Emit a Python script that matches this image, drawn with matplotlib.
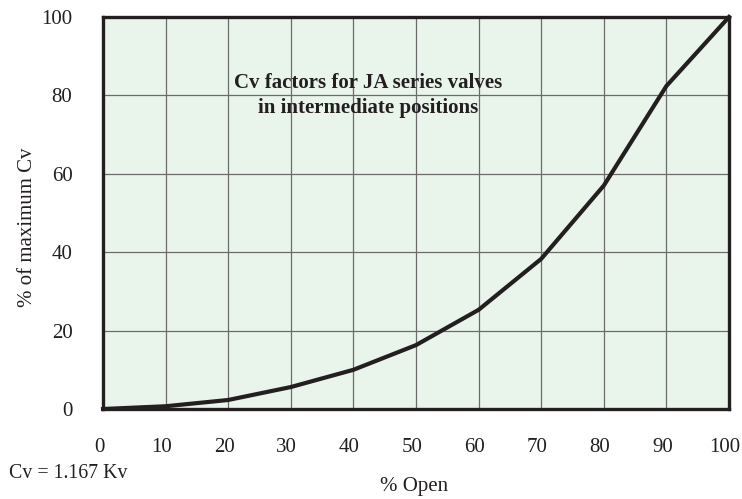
import matplotlib
matplotlib.use("Agg")
import matplotlib.pyplot as plt
import matplotlib.transforms as mtransforms

# percent open vs percent of maximum Cv
pct_open = [0, 10, 20, 30, 40, 50, 60, 70, 80, 90, 100]
pct_cv = [0, 0.7, 2.3, 5.6, 10.0, 16.3, 25.3, 38.3, 57.0, 82.4, 100]

x_ticks = [0, 10, 20, 30, 40, 50, 60, 70, 80, 90, 100]
y_ticks = [0, 20, 40, 60, 80, 100]

plt.rcParams['font.family'] = ['Liberation Serif', 'DejaVu Serif']
txt = '#231f20'

fig = plt.figure(figsize=(7.42, 4.99), dpi=100)
ax = fig.add_axes([103 / 742, 90 / 499, 626 / 742, 392 / 499])
ax.set_facecolor('#e9f5ea')

ax.plot(pct_open, pct_cv, color='#231f20', lw=3.0, solid_joinstyle='miter', zorder=3, clip_on=False)

ax.set_xlim(0, 100)
ax.set_ylim(0, 100)
ax.set_xticks(x_ticks)
ax.set_yticks(y_ticks)
ax.grid(True, color='#6b6b6b', lw=0.9)
ax.tick_params(length=0, labelsize=15, labelcolor=txt)
ax.tick_params(axis='x', pad=21)
ax.tick_params(axis='y', pad=22)
for s in ax.spines.values():
    s.set_linewidth(2.4)
    s.set_color('#231f20')
    s.set_zorder(4)

# x labels sit a few px left of their ticks in the original
shift = mtransforms.ScaledTranslation(-4 / 100, 0, fig.dpi_scale_trans)
for lbl in ax.get_xticklabels():
    lbl.set_transform(lbl.get_transform() + shift)

# axis titles placed in figure pixels
fig.text(414 / 742, 1 - 486 / 499, '% Open', ha='center', va='center', fontsize=15, color=txt)
fig.text(27 / 742, 1 - 227 / 499, '% of maximum Cv', ha='center', va='center',
         rotation=90, fontsize=15, color=txt)

ax.text(42.3, 80, 'Cv factors for JA series valves\nin intermediate positions',
        ha='center', va='center', fontsize=15, fontweight='bold', color=txt,
        linespacing=1.3)
fig.text(9 / 742, 1 - 474 / 499, 'Cv = 1.167 Kv', ha='left', va='center',
         fontsize=14.3, color=txt)

fig.savefig('out.png', dpi=100)
